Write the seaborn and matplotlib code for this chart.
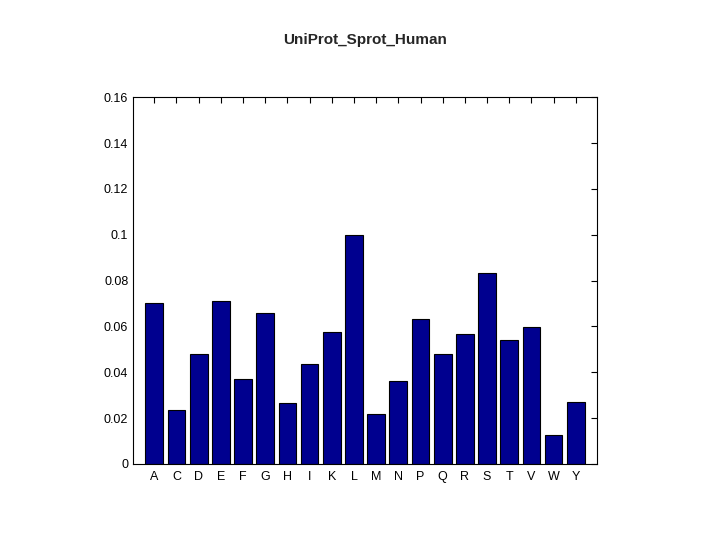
import matplotlib
matplotlib.use("Agg")
import matplotlib.pyplot as plt
import seaborn as sns
import pandas as pd

amino_acids = ["A", "C", "D", "E", "F", "G", "H", "I", "K", "L",
               "M", "N", "P", "Q", "R", "S", "T", "V", "W", "Y"]
frequency = [0.0702, 0.0235, 0.0480, 0.0710, 0.0370, 0.0658, 0.0266, 0.0436, 0.0576, 0.0998,
             0.0218, 0.0362, 0.0632, 0.0480, 0.0567, 0.0833, 0.0540, 0.0597, 0.0126, 0.0270]
y_ticks = [0, 0.02, 0.04, 0.06, 0.08, 0.1, 0.12, 0.14, 0.16]
y_labels = ["0", "0.02", "0.04", "0.06", "0.08", "0.1", "0.12", "0.14", "0.16"]

df = pd.DataFrame({"aa": amino_acids, "freq": frequency})

sns.set_style("white")
plt.rcParams["font.family"] = ["Liberation Sans", "DejaVu Sans"]

fig = plt.figure(figsize=(7.2, 5.4), dpi=100)
ax = fig.add_axes([0.185, 0.141, 0.644, 0.679])
sns.barplot(data=df, x="aa", y="freq", color="#00008f", saturation=1,
            edgecolor="black", linewidth=0.8, width=0.8, ax=ax)

ax.set_xlim(-0.95, 19.95)
ax.set_ylim(0, 0.16)
ax.set_yticks(y_ticks)
ax.set_yticklabels(y_labels)
ax.set_xlabel("")
ax.set_ylabel("")
ax.tick_params(direction="in", top=True, right=True, labelsize=9, length=4, colors="black")
for s in ax.spines.values():
    s.set_visible(True)
    s.set_color("black")
    s.set_linewidth(0.8)
ax.tick_params(axis="x", pad=5)
ax.set_title("UniProt_Sprot_Human", fontsize=11, fontweight="bold", pad=38)

fig.savefig("out.png", dpi=100, facecolor="white")
